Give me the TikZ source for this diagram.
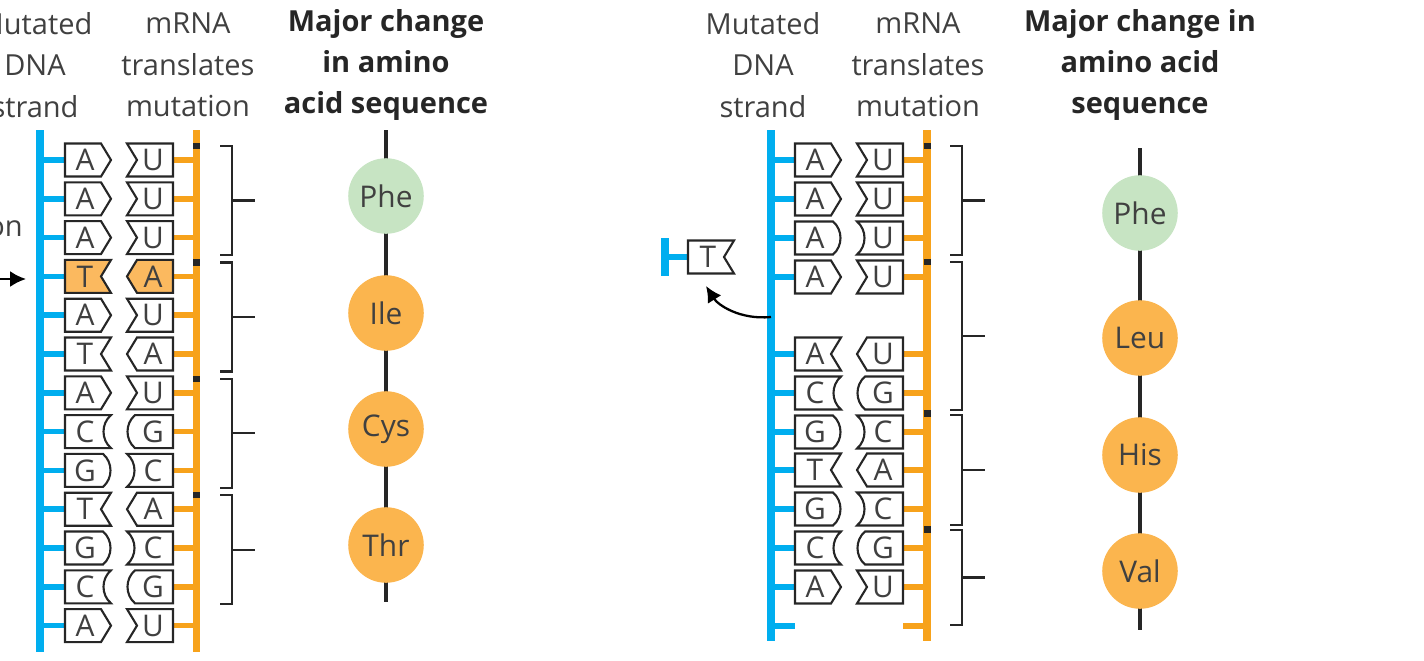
\documentclass[tikz,border=0pt]{standalone}
\usepackage{fontspec}
\setmainfont{Open Sans}
\usetikzlibrary{arrows.meta}
\tikzset{>=latex}
\definecolor{dnablue}{HTML}{00AEEF}
\definecolor{rnaorange}{HTML}{F7A21B}
\definecolor{mutfill}{HTML}{FBB95F}
\definecolor{aagreen}{HTML}{C7E4C3}
\definecolor{aaorange}{HTML}{FBB54E}
\tikzset{
  base/.style={draw=black!85,line width=1.2pt,line join=miter},
  basetxt/.style={font=\fontsize{17}{17}\selectfont\color{black!75}},
  head/.style={align=center,font=\fontsize{16.5}{23.5}\selectfont\color{black!75}},
  headb/.style={head,font=\fontsize{16.5}{23.5}\selectfont\bfseries\color{black!85}},
  bone/.style={line width=4pt},
  stub/.style={line width=3.2pt},
  brk/.style={draw=black!85,line width=1.3pt},
  aa/.style={circle,minimum size=43pt,inner sep=0pt,font=\fontsize{17}{17}\selectfont\color{black!75}},
}
% DNA base: left x, y, letter, edge (0 point, 1 notch, 2 convex, 3 concave), fill
\newcommand\dnabase[5]{%
  \ifcase#4
    \filldraw[base,fill=#5] (#1,#2-16.5) -- (#1+36,#2-16.5) -- (#1+46,#2) -- (#1+36,#2+16.5) -- (#1,#2+16.5) -- cycle;
  \or
    \filldraw[base,fill=#5] (#1,#2-16.5) -- (#1+46,#2-16.5) -- (#1+36,#2) -- (#1+46,#2+16.5) -- (#1,#2+16.5) -- cycle;
  \or
    \filldraw[base,fill=#5] (#1,#2-16.5) -- (#1+38,#2-16.5) .. controls (#1+48,#2-8) and (#1+48,#2+8) .. (#1+38,#2+16.5) -- (#1,#2+16.5) -- cycle;
  \or
    \filldraw[base,fill=#5] (#1,#2-16.5) -- (#1+46,#2-16.5) .. controls (#1+36,#2-8) and (#1+36,#2+8) .. (#1+46,#2+16.5) -- (#1,#2+16.5) -- cycle;
  \fi
  \node[basetxt] at (#1+20,#2) {#3};}
% mRNA base: right x, y, letter, edge, fill
\newcommand\rnabase[5]{%
  \ifcase#4
    \filldraw[base,fill=#5] (#1,#2-16.5) -- (#1-36,#2-16.5) -- (#1-46,#2) -- (#1-36,#2+16.5) -- (#1,#2+16.5) -- cycle;
  \or
    \filldraw[base,fill=#5] (#1,#2-16.5) -- (#1-46,#2-16.5) -- (#1-36,#2) -- (#1-46,#2+16.5) -- (#1,#2+16.5) -- cycle;
  \or
    \filldraw[base,fill=#5] (#1,#2-16.5) -- (#1-38,#2-16.5) .. controls (#1-48,#2-8) and (#1-48,#2+8) .. (#1-38,#2+16.5) -- (#1,#2+16.5) -- cycle;
  \or
    \filldraw[base,fill=#5] (#1,#2-16.5) -- (#1-46,#2-16.5) .. controls (#1-36,#2-8) and (#1-36,#2+8) .. (#1-46,#2+16.5) -- (#1,#2+16.5) -- cycle;
  \fi
  \node[basetxt] at (#1-20,#2) {#3};}
\begin{document}
\begin{tikzpicture}[x=0.02cm,y=-0.02cm]
  \useasboundingbox (0,0) rectangle (1424,660);

  % headings
  \node[head] (hdnaL) at (35,65) {Mutated\\DNA\\strand};
  \node[head] (hrnaL) at (188,65) {mRNA\\translates\\mutation};
  \node[headb] (haaL) at (386,65) {Major change\\in amino\\acid sequence};
  \node[head] (hdnaR) at (763,65) {Mutated\\DNA\\strand};
  \node[head] (hrnaR) at (918,65) {mRNA\\translates\\mutation};
  \node[headb] (haaR) at (1140,65) {Major change in\\amino acid\\sequence};

  % left: substitution
  \node[head,anchor=east,inner sep=0pt] (mutL) at (23,229) {on};
  \coordinate (arrS) at (0,279);
  \coordinate (arrE) at (26,279);
  \draw[->,line width=1.3pt,>={Latex[length=9pt,width=9pt]}] (arrS) -- (arrE);
  \draw[bone,dnablue] (40,130) -- (40,652);
  \draw[bone,rnaorange] (196.5,130) -- (196.5,652);
  \foreach \y/\d/\ds/\r/\rs/\f [count=\i] in {
      160/A/0/U/1/white, 198.8/A/0/U/1/white, 237.6/A/0/U/1/white,
      276.4/T/1/A/0/mutfill, 315.2/A/0/U/1/white, 354/T/1/A/0/white,
      392.8/A/0/U/1/white, 431.6/C/3/G/2/white, 470.4/G/2/C/3/white,
      509.2/T/1/A/0/white, 548/G/2/C/3/white, 586.8/C/3/G/2/white,
      625.6/A/0/U/1/white} {
    \draw[stub,dnablue] (40,\y) -- (65,\y);
    \draw[stub,rnaorange] (173,\y) -- (196.5,\y);
    \dnabase{65}{\y}{\d}{\ds}{\f}
    \rnabase{173}{\y}{\r}{\rs}{\f}
  }
  \foreach \t in {146,262.4,378.8,495.2} {
    \draw[line width=3.6pt,black!85] (193,\t) -- (200,\t);
    \draw[brk] (220,\t) -- (232,\t) -- (232,\t+109) -- (220,\t+109);
    \draw[brk] (232,\t+54.5) -- (255,\t+54.5);
  }
  \draw[line width=1.8pt,black!85] (386,130) -- (386,602);
  \node[aa,fill=aagreen] (pheL) at (386,196) {Phe};
  \node[aa,fill=aaorange] (ileL) at (386,313) {Ile};
  \node[aa,fill=aaorange] (cysL) at (386,429) {Cys};
  \node[aa,fill=aaorange] (thrL) at (386,545) {Thr};

  % right: deletion
  \draw[bone,dnablue] (771,130) -- (771,641);
  \draw[bone,rnaorange] (927,130) -- (927,641);
  \foreach \y/\d/\ds/\r/\rs in {
      160/A/0/U/1, 199/A/0/U/1, 238/A/2/U/3, 277/A/0/U/1,
      354/A/1/U/0, 393/C/3/G/2, 432/G/2/C/3, 470/T/1/A/0,
      509/G/2/C/3, 548/C/3/G/2, 587/A/0/U/1} {
    \draw[stub,dnablue] (771,\y) -- (795,\y);
    \draw[stub,rnaorange] (903,\y) -- (927,\y);
    \dnabase{795}{\y}{\d}{\ds}{white}
    \rnabase{903}{\y}{\r}{\rs}{white}
  }
  \draw[stub,dnablue] (771,626) -- (795,626);
  \draw[stub,rnaorange] (903,626) -- (927,626);
  \foreach \t/\b in {146/255,262/410,415/525,530/625} {
    \draw[brk] (950,\t) -- (962,\t) -- (962,\b) -- (950,\b);
    \draw[brk] (962,{(\t+\b)/2}) -- (985,{(\t+\b)/2});
  }
  \foreach \t in {146,262,413.5,529.5}
    \draw[line width=3.6pt,black!85] (923.5,\t) -- (930.5,\t);
  % removed base
  \draw[bone,dnablue] (665,238) -- (665,276);
  \draw[stub,dnablue] (665,257) -- (690,257);
  \dnabase{688}{257}{T}{1}{white}
  \coordinate (delS) at (771,317);
  \coordinate (delE) at (706,286);
  \draw[->,line width=1.3pt,>={Latex[length=9pt,width=9pt]}] (delS) .. controls (740,320) and (718,305) .. (delE);
  \draw[line width=1.8pt,black!85] (1140,148) -- (1140,630);
  \node[aa,fill=aagreen] (pheR) at (1140,213) {Phe};
  \node[aa,fill=aaorange] (leuR) at (1140,338) {Leu};
  \node[aa,fill=aaorange] (hisR) at (1140,455) {His};
  \node[aa,fill=aaorange] (valR) at (1140,571) {Val};
\end{tikzpicture}
\end{document}
